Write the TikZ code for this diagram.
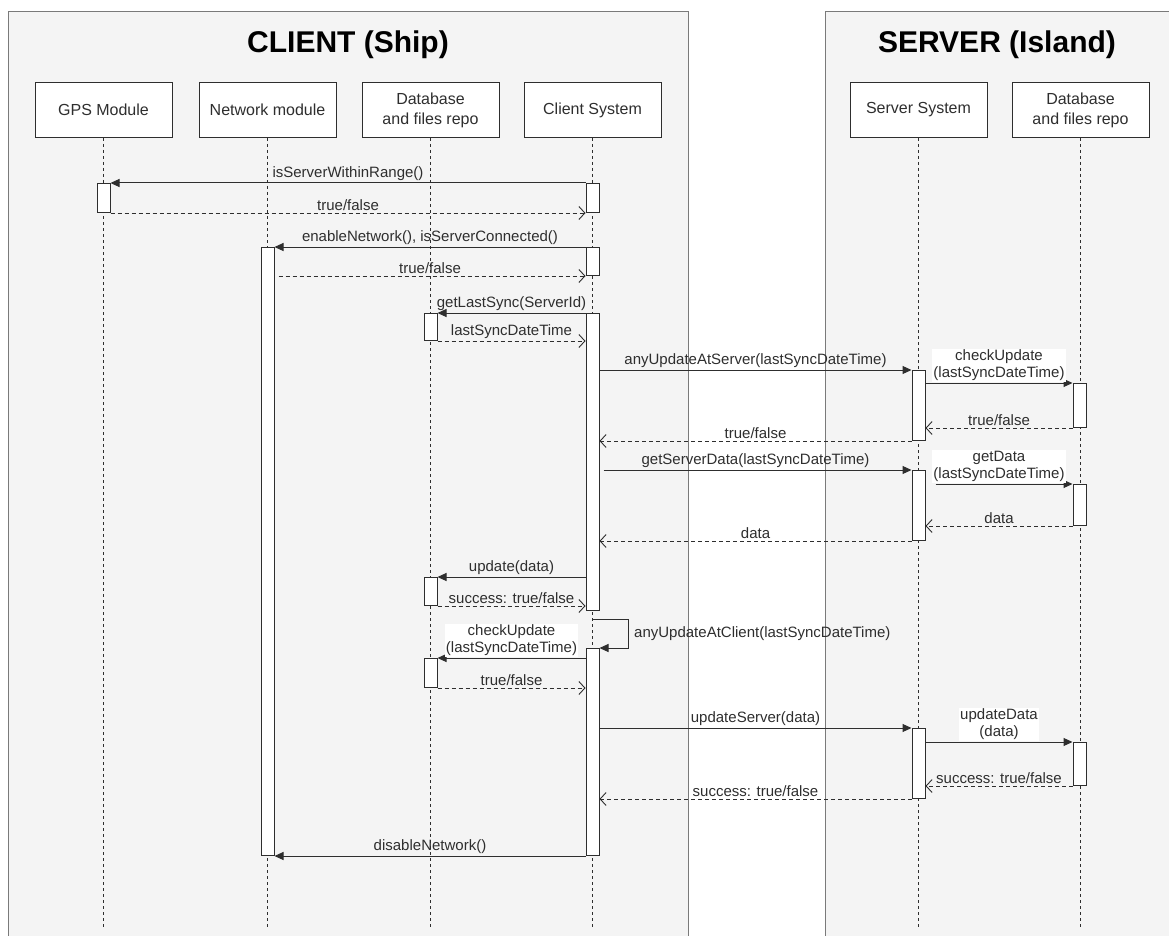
\documentclass[tikz,border=0pt]{standalone}
\usepackage{fontspec}
\setmainfont{Liberation Sans}
\usetikzlibrary{arrows.meta,calc}
\definecolor{panelgray}{HTML}{F4F4F4}
\definecolor{edgegray}{HTML}{7A7A7A}
\definecolor{inkgray}{HTML}{2E2E2E}

\begin{document}
\begin{tikzpicture}[x=1pt,y=1pt,
  panel/.style={draw=edgegray, fill=panelgray, line width=0.8pt},
  title/.style={font=\bfseries\fontsize{30}{32}\selectfont, text=black},
  lifebox/.style={draw=inkgray, fill=white, line width=1pt, minimum width=137, minimum height=55, align=center, text=inkgray, font=\fontsize{16}{20}\selectfont},
  act/.style={draw=inkgray, fill=white, line width=1pt, minimum width=13, inner sep=0pt, anchor=north},
  lifeline/.style={inkgray, dash pattern=on 3pt off 3pt, line width=0.9pt},
  call/.style={-{Triangle[length=9pt,width=8pt]}, line width=1pt, inkgray},
  ret/.style={-{Straight Barb[length=6pt,width=13pt]}, dash pattern=on 4pt off 3pt, line width=0.9pt, inkgray},
  msg/.style={font=\fontsize{15}{17}\selectfont, text=inkgray, inner sep=2pt},
  note/.style={msg, fill=white, align=center, inner sep=1pt}
]
\useasboundingbox (0,0) rectangle (1169,-936);
\clip (0,0) rectangle (1169,-936);
\draw [panel] (8,-11) rectangle (688,-945);
\draw [panel] (825,-11) rectangle (1180,-945);
\node [title] (client) at (348,-45) {CLIENT (Ship)};
\node [title] (server) at (997,-45) {SERVER (Island)};

\node [lifebox] (gps) at (103.5,-110) {GPS Module};
\node [lifebox] (net) at (267.5,-110) {Network module};
\node [lifebox] (db) at (430.5,-110) {Database\\and files repo};
\node [lifebox] (cs) at (592.5,-110) {Client System};
\node [lifebox] (sv) at (918.5,-110) {Server System};
\node [lifebox] (ds) at (1080.5,-110) {Database\\and files repo};
\foreach \l in {gps,net,db,cs,sv,ds}
  \draw [lifeline] (\l.south) -- (\l.south |- 0,-928);

\node [act, minimum height=29] (gps1) at (103.5,-183) {};
\node [act, minimum height=29] (cs1) at (592.5,-183) {};
\node [act, minimum height=28] (cs2) at (592.5,-247) {};
\node [act, minimum height=297] (cs3) at (592.5,-313) {};
\node [act, minimum height=207] (cs4) at (592.5,-648) {};
\node [act, minimum height=608] (net1) at (267.5,-247) {};
\node [act, minimum height=27] (db1) at (430.5,-313) {};
\node [act, minimum height=28] (db2) at (430.5,-577) {};
\node [act, minimum height=29] (db3) at (430.5,-658) {};
\node [act, minimum height=70] (sv1) at (918.5,-370) {};
\node [act, minimum height=70] (sv2) at (918.5,-470) {};
\node [act, minimum height=70] (sv3) at (918.5,-728) {};
\node [act, minimum height=44] (ds1) at (1079.5,-383) {};
\node [act, minimum height=41] (ds2) at (1079.5,-484) {};
\node [act, minimum height=43] (ds3) at (1079.5,-742) {};

% ship side
\draw [call] (cs1.north west) -- node [msg,above] {isServerWithinRange()} (gps1.north east);
\draw [ret] (gps1.south east) -- node [msg,above] {true/false} (cs1.south west);
\draw [call] (cs2.north west) -- node [msg,above] {enableNetwork(), isServerConnected()} (cs2.north west -| net1.east);
\draw [ret, shorten <=4pt] (cs2.south west -| net1.east) -- node [msg,above] {true/false} (cs2.south west);
\draw [call] (cs3.north west) -- node [msg,above] {getLastSync(ServerId)} (db1.north east);
\draw [ret] (db1.south east) -- node [msg,above] {lastSyncDateTime} (db1.south east -| cs3.west);

% island side
\draw [call] (sv1.north west -| cs3.east) -- node [msg,above] {anyUpdateAtServer(lastSyncDateTime)} (sv1.north west);
\draw [call] (ds1.north west -| sv1.east) -- node [note,above=1pt] {checkUpdate\\(lastSyncDateTime)} (ds1.north west);
\draw [ret] (ds1.south west) -- node [msg,above] {true/false} (ds1.south west -| sv1.east);
\draw [ret] (sv1.south west) -- node [msg,above] {true/false} (sv1.south west -| cs3.east);
\draw [call, shorten <=4pt] (sv2.north west -| cs3.east) -- node [msg,above] {getServerData(lastSyncDateTime)} (sv2.north west);
\draw [call, shorten <=10pt] (ds2.north west -| sv2.east) -- node [note,above=1pt] {getData\\(lastSyncDateTime)} (ds2.north west);
\draw [ret] (ds2.south west) -- node [msg,above] {data} (ds2.south west -| sv2.east);
\draw [ret] (sv2.south west) -- node [msg,above] {data} (sv2.south west -| cs3.east);

% back on the ship
\draw [call] (db2.north east -| cs3.west) -- node [msg,above] {update(data)} (db2.north east);
\draw [ret] (db2.south east) -- node [msg,above] {success: true/false} (db2.south east -| cs3.west);
\coordinate (loop) at (592.5,-619);
\draw [call] (loop) -- ++(36,0) |- (cs4.north east);
\node [msg, anchor=west] (selfmsg) at (632,-634) {anyUpdateAtClient(lastSyncDateTime)};
\draw [call] (db3.north east -| cs4.west) -- node [note,above=1pt] {checkUpdate\\(lastSyncDateTime)} (db3.north east);
\draw [ret] (db3.south east) -- node [msg,above] {true/false} (db3.south east -| cs4.west);
\draw [call] (sv3.north west -| cs4.east) -- node [msg,above] {updateServer(data)} (sv3.north west);
\draw [call] (ds3.north west -| sv3.east) -- node [note,above=1pt] {updateData\\(data)} (ds3.north west);
\draw [ret] (ds3.south west) -- node [msg,above] {success: true/false} (ds3.south west -| sv3.east);
\draw [ret] (sv3.south west) -- node [msg,above] {success: true/false} (sv3.south west -| cs4.east);
\draw [call] (cs4.south west) -- node [msg,above] {disableNetwork()} (cs4.south west -| net1.east);
\end{tikzpicture}
\end{document}
